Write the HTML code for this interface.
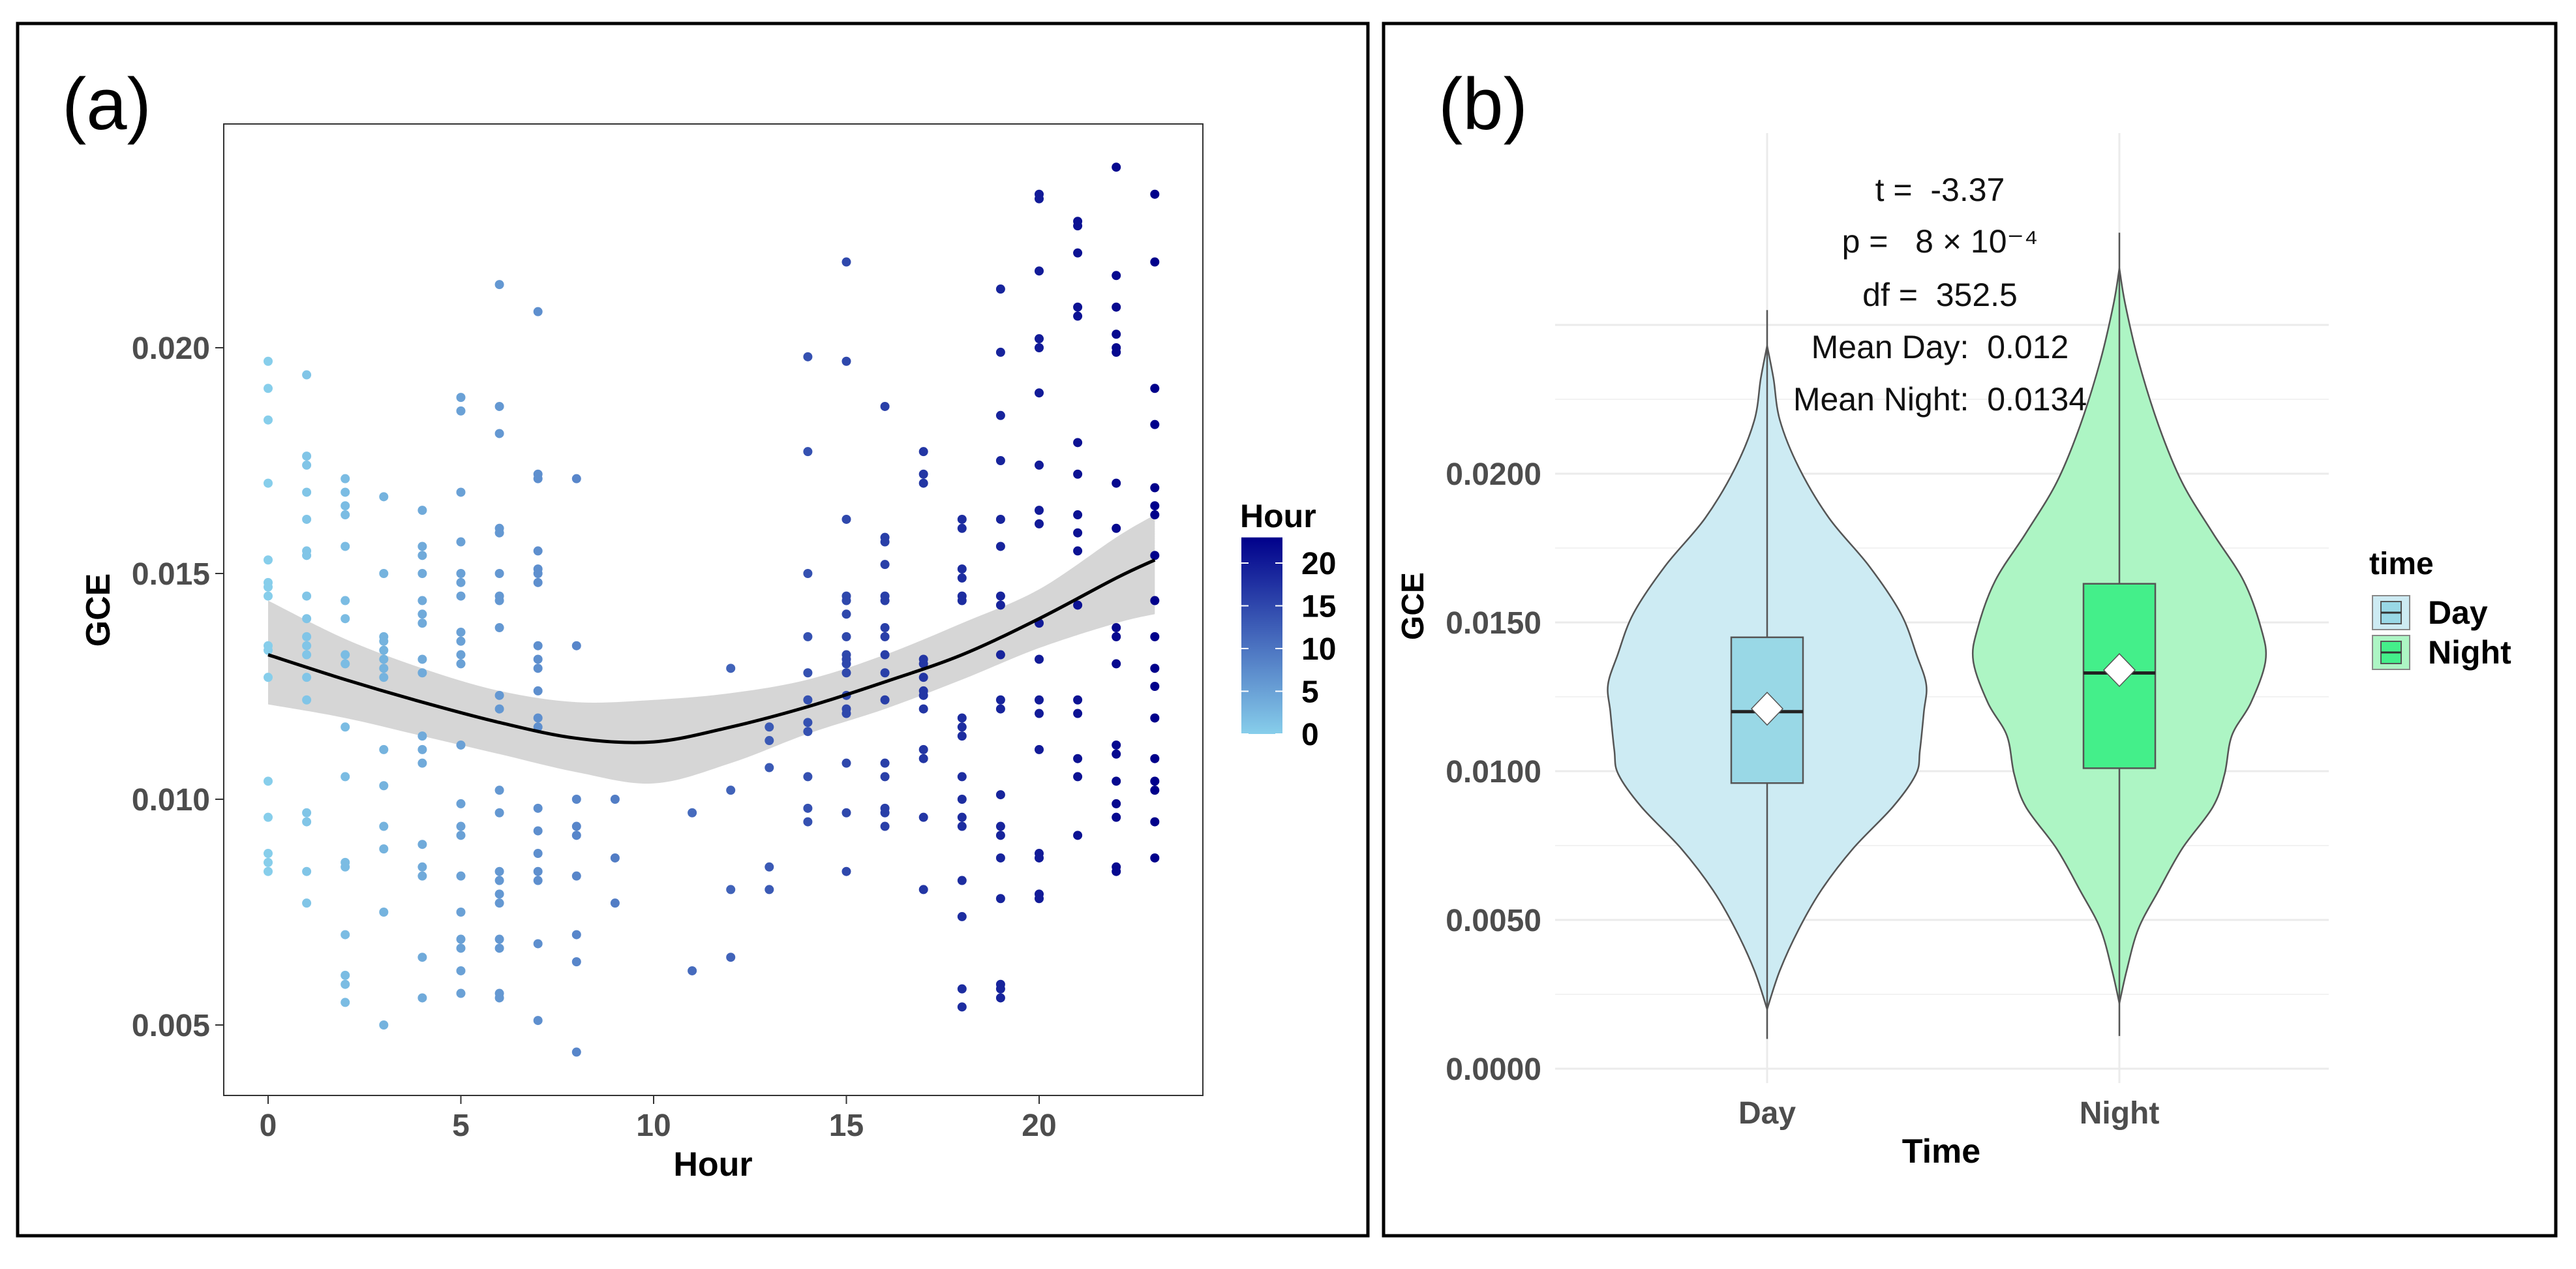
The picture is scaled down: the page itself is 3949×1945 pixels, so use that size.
<!DOCTYPE html>
<html><head><meta charset="utf-8"><style>
html,body{margin:0;padding:0;background:#fff}
svg{display:block}
text{font-family:"Liberation Sans",Arial,sans-serif}
.pre{white-space:pre}
</style></head><body>
<svg id="root" width="3949" height="1945" viewBox="0 0 3949 1945" xmlns="http://www.w3.org/2000/svg">
<rect x="0" y="0" width="3949" height="1945" fill="#fff"/>
<rect x="27" y="36" width="2070" height="1858" fill="none" stroke="#000" stroke-width="5"/>
<rect x="2121" y="36" width="1797" height="1858" fill="none" stroke="#000" stroke-width="5"/>
<text x="95" y="198" font-size="112">(a)</text>
<text x="2205" y="198" font-size="112">(b)</text>
<g id="pa"></g>
<g id="pb"></g>
</svg>
<script>
// ---------- Panel (a) data ----------
const hours = [0,1,2,3,4,5,6,7,8,9,11,12,13,14,15,16,17,18,19,20,21,22,23];
const gceByHour = [
 [0.0197,0.0191,0.0184,0.0170,0.0153,0.0148,0.0147,0.0145,0.0134,0.0133,0.0127,0.0104,0.0096,0.0088,0.0086,0.0084],
 [0.0194,0.0176,0.0174,0.0168,0.0162,0.0155,0.0154,0.0145,0.0140,0.0136,0.0134,0.0132,0.0127,0.0122,0.0097,0.0095,0.0084,0.0077],
 [0.0171,0.0168,0.0165,0.0163,0.0156,0.0144,0.0140,0.0132,0.0130,0.0116,0.0105,0.0086,0.0085,0.0070,0.0061,0.0059,0.0055],
 [0.0167,0.0150,0.0136,0.0135,0.0133,0.0131,0.0129,0.0127,0.0111,0.0103,0.0094,0.0089,0.0075,0.0050],
 [0.0164,0.0156,0.0154,0.0150,0.0144,0.0141,0.0139,0.0131,0.0128,0.0114,0.0111,0.0108,0.0090,0.0085,0.0083,0.0065,0.0056],
 [0.0189,0.0186,0.0168,0.0157,0.0150,0.0148,0.0145,0.0137,0.0135,0.0132,0.0130,0.0112,0.0099,0.0094,0.0092,0.0083,0.0075,0.0069,0.0067,0.0062,0.0057],
 [0.0214,0.0187,0.0181,0.0160,0.0159,0.0150,0.0145,0.0144,0.0138,0.0123,0.0120,0.0102,0.0097,0.0084,0.0082,0.0079,0.0077,0.0069,0.0067,0.0057,0.0056],
 [0.0208,0.0172,0.0171,0.0155,0.0151,0.0150,0.0148,0.0134,0.0131,0.0129,0.0124,0.0118,0.0116,0.0098,0.0093,0.0088,0.0084,0.0082,0.0068,0.0051],
 [0.0171,0.0134,0.0100,0.0094,0.0092,0.0083,0.0070,0.0064,0.0044],
 [0.0100,0.0087,0.0077],
 [0.0097,0.0062],
 [0.0129,0.0102,0.0080,0.0065],
 [0.0116,0.0113,0.0107,0.0085,0.0080],
 [0.0198,0.0177,0.0150,0.0136,0.0128,0.0122,0.0117,0.0115,0.0105,0.0098,0.0095],
 [0.0219,0.0197,0.0162,0.0145,0.0144,0.0141,0.0136,0.0132,0.0131,0.0130,0.0128,0.0123,0.0120,0.0119,0.0108,0.0097,0.0084],
 [0.0187,0.0158,0.0157,0.0152,0.0145,0.0144,0.0138,0.0136,0.0132,0.0128,0.0122,0.0108,0.0105,0.0098,0.0097,0.0094],
 [0.0177,0.0172,0.0170,0.0131,0.0130,0.0127,0.0124,0.0123,0.0120,0.0111,0.0109,0.0096,0.0080],
 [0.0162,0.0160,0.0151,0.0149,0.0145,0.0144,0.0118,0.0116,0.0114,0.0105,0.0100,0.0096,0.0094,0.0082,0.0074,0.0058,0.0054],
 [0.0213,0.0199,0.0185,0.0175,0.0162,0.0156,0.0145,0.0143,0.0132,0.0122,0.0120,0.0101,0.0094,0.0092,0.0087,0.0078,0.0059,0.0058,0.0056],
 [0.0234,0.0233,0.0217,0.0202,0.0200,0.0190,0.0174,0.0164,0.0161,0.0139,0.0131,0.0122,0.0119,0.0111,0.0088,0.0087,0.0079,0.0078],
 [0.0228,0.0227,0.0221,0.0209,0.0207,0.0179,0.0172,0.0163,0.0159,0.0155,0.0143,0.0122,0.0119,0.0109,0.0105,0.0092],
 [0.0240,0.0216,0.0209,0.0203,0.0200,0.0199,0.0170,0.0160,0.0138,0.0136,0.0130,0.0112,0.0110,0.0104,0.0099,0.0096,0.0085,0.0084],
 [0.0234,0.0219,0.0191,0.0183,0.0169,0.0165,0.0163,0.0154,0.0144,0.0136,0.0129,0.0125,0.0118,0.0109,0.0104,0.0102,0.0095,0.0087]
];
const fitHours = [0,2,4,6,8,10,12,14,16,18,20,22,23];
const fitVal   = [0.01320,0.01265,0.01215,0.01170,0.01135,0.01127,0.01160,0.01205,0.01260,0.01320,0.01400,0.01490,0.01530];
const fitLo    = [0.01210,0.01180,0.01140,0.01100,0.01060,0.01035,0.01080,0.01145,0.01200,0.01265,0.01335,0.01390,0.01410];
const fitHi    = [0.01440,0.01355,0.01290,0.01240,0.01215,0.01220,0.01235,0.01265,0.01320,0.01390,0.01465,0.01580,0.01630];
const xTicksA = [0,5,10,15,20];
const yTicksA = [0.005,0.010,0.015,0.020];
const cbTicks = [0,5,10,15,20];

// ---------- Panel (b) data ----------
const groups = ["Day","Night"];
const violinLevels = [
 [0.0243,0.0232,0.0218,0.0202,0.0185,0.0169,0.0153,0.0139,0.0129,0.0120,0.0107,0.0099,0.0088,0.0074,0.0060,0.0047,0.0033,0.0020],
 [0.0269,0.0257,0.0238,0.0216,0.0197,0.0180,0.0164,0.0148,0.0137,0.0123,0.0112,0.0099,0.0088,0.0074,0.0060,0.0047,0.0033,0.0022]
];
const violinDensity = [
 [0,0.04,0.08,0.20,0.39,0.64,0.84,0.94,1.0,0.985,0.96,0.935,0.79,0.54,0.34,0.20,0.08,0],
 [0,0.04,0.13,0.27,0.43,0.64,0.85,0.97,1.0,0.90,0.77,0.72,0.64,0.43,0.27,0.13,0.05,0]
];
const violinMaxHalf = [244,224];
const q1 = [0.0096,0.0101];
const med = [0.0120,0.0133];
const q3 = [0.0145,0.0163];
const meanV = [0.0121,0.0134];
const whLo = [0.0010,0.0011];
const whHi = [0.0255,0.0281];
const yTicksB = [0.0000,0.0050,0.0100,0.0150,0.0200];
const yLabelsB = ["0.0000","0.0050","0.0100","0.0150","0.0200"];
const yMinorB = [0.0025,0.0075,0.0125,0.0175,0.0225];
const yExtraB = [0.0250];
const annotLines = ["t =  -3.37","p =   8 × 10\u207B\u2074","df =  352.5","Mean Day:  0.012","Mean Night:  0.0134"];

const NS = "http://www.w3.org/2000/svg";
function mk(parent, tag, attrs, txt){
  const e = document.createElementNS(NS, tag);
  for (const k in attrs) e.setAttribute(k, attrs[k]);
  if (txt !== undefined) e.textContent = txt;
  parent.appendChild(e); return e;
}
// ===== Panel A =====
const pa = document.getElementById('pa');
const ax = h => 411 + h*59.1;
const ay = v => 1571 - (v-0.005)/0.005*346;
const lo = [135,206,235], hi = [0,0,139];
function col(h){ const t=h/23; return 'rgb('+lo.map((c,i)=>Math.round(c+(hi[i]-c)*t)).join(',')+')'; }

let frame = mk(pa,'rect',{x:343,y:190,width:1501,height:1489,fill:'none',stroke:'#333','stroke-width':2});



function smoothPath(xs,ys){
  let d='M'+xs[0]+','+ys[0];
  for(let i=0;i<xs.length-1;i++){
    const x0=xs[Math.max(i-1,0)],y0=ys[Math.max(i-1,0)],x1=xs[i],y1=ys[i],x2=xs[i+1],y2=ys[i+1],x3=xs[Math.min(i+2,xs.length-1)],y3=ys[Math.min(i+2,xs.length-1)];
    d+='C'+(x1+(x2-x0)/6)+','+(y1+(y2-y0)/6)+' '+(x2-(x3-x1)/6)+','+(y2-(y3-y1)/6)+' '+x2+','+y2;
  }
  return d;
}
// ribbon
const fx = fitHours.map(ax);
let bandD = smoothPath(fx, fitHi.map(ay));
const rfx = fx.slice().reverse(), rlo = fitLo.map(ay).reverse();
bandD += 'L'+rfx[0]+','+rlo[0] + smoothPath(rfx,rlo).replace(/^M[^C]*/,'') + 'Z';
let band = mk(pa,'path',{d:bandD,fill:'#cfcfcf','fill-opacity':0.85});



// points
const ptsG = mk(pa,'g',{});


hours.forEach((h,i)=>{
  gceByHour[i].forEach(v=>{
    const c = mk(ptsG,'circle',{cx:ax(h),cy:ay(v),r:7,fill:col(h)});
    
    
  });
});
let fit = mk(pa,'path',{d:smoothPath(fx,fitVal.map(ay)),fill:'none',stroke:'#000','stroke-width':5});



xTicksA.forEach(t=>{
  const l=mk(pa,'line',{x1:ax(t),x2:ax(t),y1:1679,y2:1692,stroke:'#333','stroke-width':2});
  
  
  const tx=mk(pa,'text',{x:ax(t),y:1741,'font-size':48,'font-weight':'bold',fill:'#4d4d4d','text-anchor':'middle'},String(t));
  
  
});
yTicksA.forEach(t=>{
  const l=mk(pa,'line',{x1:330,x2:343,y1:ay(t),y2:ay(t),stroke:'#333','stroke-width':2});
  
  
  const tx=mk(pa,'text',{x:322,y:ay(t)+17,'font-size':48,'font-weight':'bold',fill:'#4d4d4d','text-anchor':'end'},t.toFixed(3));
  
  
});
let xt=mk(pa,'text',{x:1093,y:1802,'font-size':52,'font-weight':'bold','text-anchor':'middle'},'Hour');


let yt=mk(pa,'text',{x:0,y:0,'font-size':52,'font-weight':'bold','text-anchor':'middle',transform:'translate(168,935) rotate(-90)'},'GCE');



// colorbar
const defs = mk(pa,'defs',{});
const lg = mk(defs,'linearGradient',{id:'cbg',x1:0,y1:1,x2:0,y2:0});
mk(lg,'stop',{offset:0,'stop-color':col(0)});
mk(lg,'stop',{offset:1,'stop-color':col(23)});
const cy = h => 1125 - h*13.1;
let cb=mk(pa,'rect',{x:1903,y:cy(23),width:63,height:cy(0)-cy(23),fill:'url(#cbg)'});


let cbt=mk(pa,'text',{x:1901,y:808,'font-size':50,'font-weight':'bold'},'Hour');


cbTicks.forEach(t=>{
  mk(pa,'line',{x1:1903,x2:1914,y1:cy(t),y2:cy(t),stroke:'#fff','stroke-width':2});
  mk(pa,'line',{x1:1955,x2:1966,y1:cy(t),y2:cy(t),stroke:'#fff','stroke-width':2});
  const tx=mk(pa,'text',{x:1995,y:cy(t)+17,'font-size':48,'font-weight':'bold'},String(t));
  
  
});

// ===== Panel B =====
const pb = document.getElementById('pb');
const by = v => 1638 - v/0.005*228;
const bx = [2709,3249];
const gridL=2384, gridR=3570;
yMinorB.forEach(t=>{
  const l=mk(pb,'line',{x1:gridL,x2:gridR,y1:by(t),y2:by(t),stroke:'#f2f2f2','stroke-width':2});
  
  
});
yTicksB.concat(yExtraB).forEach(t=>{
  const l=mk(pb,'line',{x1:gridL,x2:gridR,y1:by(t),y2:by(t),stroke:'#ebebeb','stroke-width':3});
  
  
});
bx.forEach(x=>{
  const l=mk(pb,'line',{x1:x,x2:x,y1:204,y2:1660,stroke:'#ebebeb','stroke-width':3});
  
  
});
const vFill=['#cdebf3','#adf5c4'], bFill=['#99d8e6','#44ef8a'];
groups.forEach((g,i)=>{
  const cx=bx[i], lv=violinLevels[i], dn=violinDensity[i], mh=violinMaxHalf[i];
  const rx = lv.map((v,k)=>cx+dn[k]*mh), ry=lv.map(by);
  const lxs = lv.map((v,k)=>cx-dn[k]*mh).reverse(), lys=ry.slice().reverse();
  let d = smoothPath(rx,ry);
  d += 'L'+lxs[0]+','+lys[0] + smoothPath(lxs,lys).replace(/^M[^C]*/,'') + 'Z';
  const vp=mk(pb,'path',{d:d,fill:vFill[i],stroke:'#555','stroke-width':2.5});
  
  
  const wl=mk(pb,'line',{x1:cx,x2:cx,y1:by(whHi[i]),y2:by(whLo[i]),stroke:'#555','stroke-width':2.5});
  
  
  const bw=55;
  const bxr=mk(pb,'rect',{x:cx-bw,y:by(q3[i]),width:bw*2,height:by(q1[i])-by(q3[i]),fill:bFill[i],stroke:'#555','stroke-width':2.5});
  
  
  const ml=mk(pb,'line',{x1:cx-bw,x2:cx+bw,y1:by(med[i]),y2:by(med[i]),stroke:'#222','stroke-width':5});
  
  
  const my=by(meanV[i]);
  const dm=mk(pb,'polygon',{points:`${cx},${my-25} ${cx+24},${my} ${cx},${my+25} ${cx-24},${my}`,fill:'#fff',stroke:'#555','stroke-width':1.5});
  
  
  const tx=mk(pb,'text',{x:cx,y:1722,'font-size':48,'font-weight':'bold',fill:'#4d4d4d','text-anchor':'middle'},g);
  
  
});
yTicksB.forEach((t,i)=>{
  const tx=mk(pb,'text',{x:2363,y:by(t)+17,'font-size':48,'font-weight':'bold',fill:'#4d4d4d','text-anchor':'end'},yLabelsB[i]);
  
  
});
const annY=[308,387,469,549,629];
annotLines.forEach((s,i)=>{
  const tx=mk(pb,'text',{x:2974,y:annY[i],'font-size':50,'text-anchor':'middle',fill:'#111','class':'pre'},s);
  
  
});
let xtb=mk(pb,'text',{x:2976,y:1782,'font-size':52,'font-weight':'bold','text-anchor':'middle'},'Time');


let ytb=mk(pb,'text',{x:0,y:0,'font-size':48,'font-weight':'bold','text-anchor':'middle',transform:'translate(2182,929) rotate(-90)'},'GCE');


// legend
let lt=mk(pb,'text',{x:3632,y:880,'font-size':48,'font-weight':'bold'},'time');


groups.forEach((g,i)=>{
  const y0=913+i*61;
  const r=mk(pb,'rect',{x:3637,y:y0,width:57,height:52,fill:vFill[i],stroke:'#888','stroke-width':2});
  
  
  mk(pb,'rect',{x:3650,y:y0+9,width:31,height:34,fill:bFill[i],stroke:'#555','stroke-width':2});
  mk(pb,'line',{x1:3650,x2:3681,y1:y0+26,y2:y0+26,stroke:'#333','stroke-width':3});
  const tx=mk(pb,'text',{x:3722,y:y0+43,'font-size':50,'font-weight':'bold'},g);
  
  
});
</script>
</body></html>
